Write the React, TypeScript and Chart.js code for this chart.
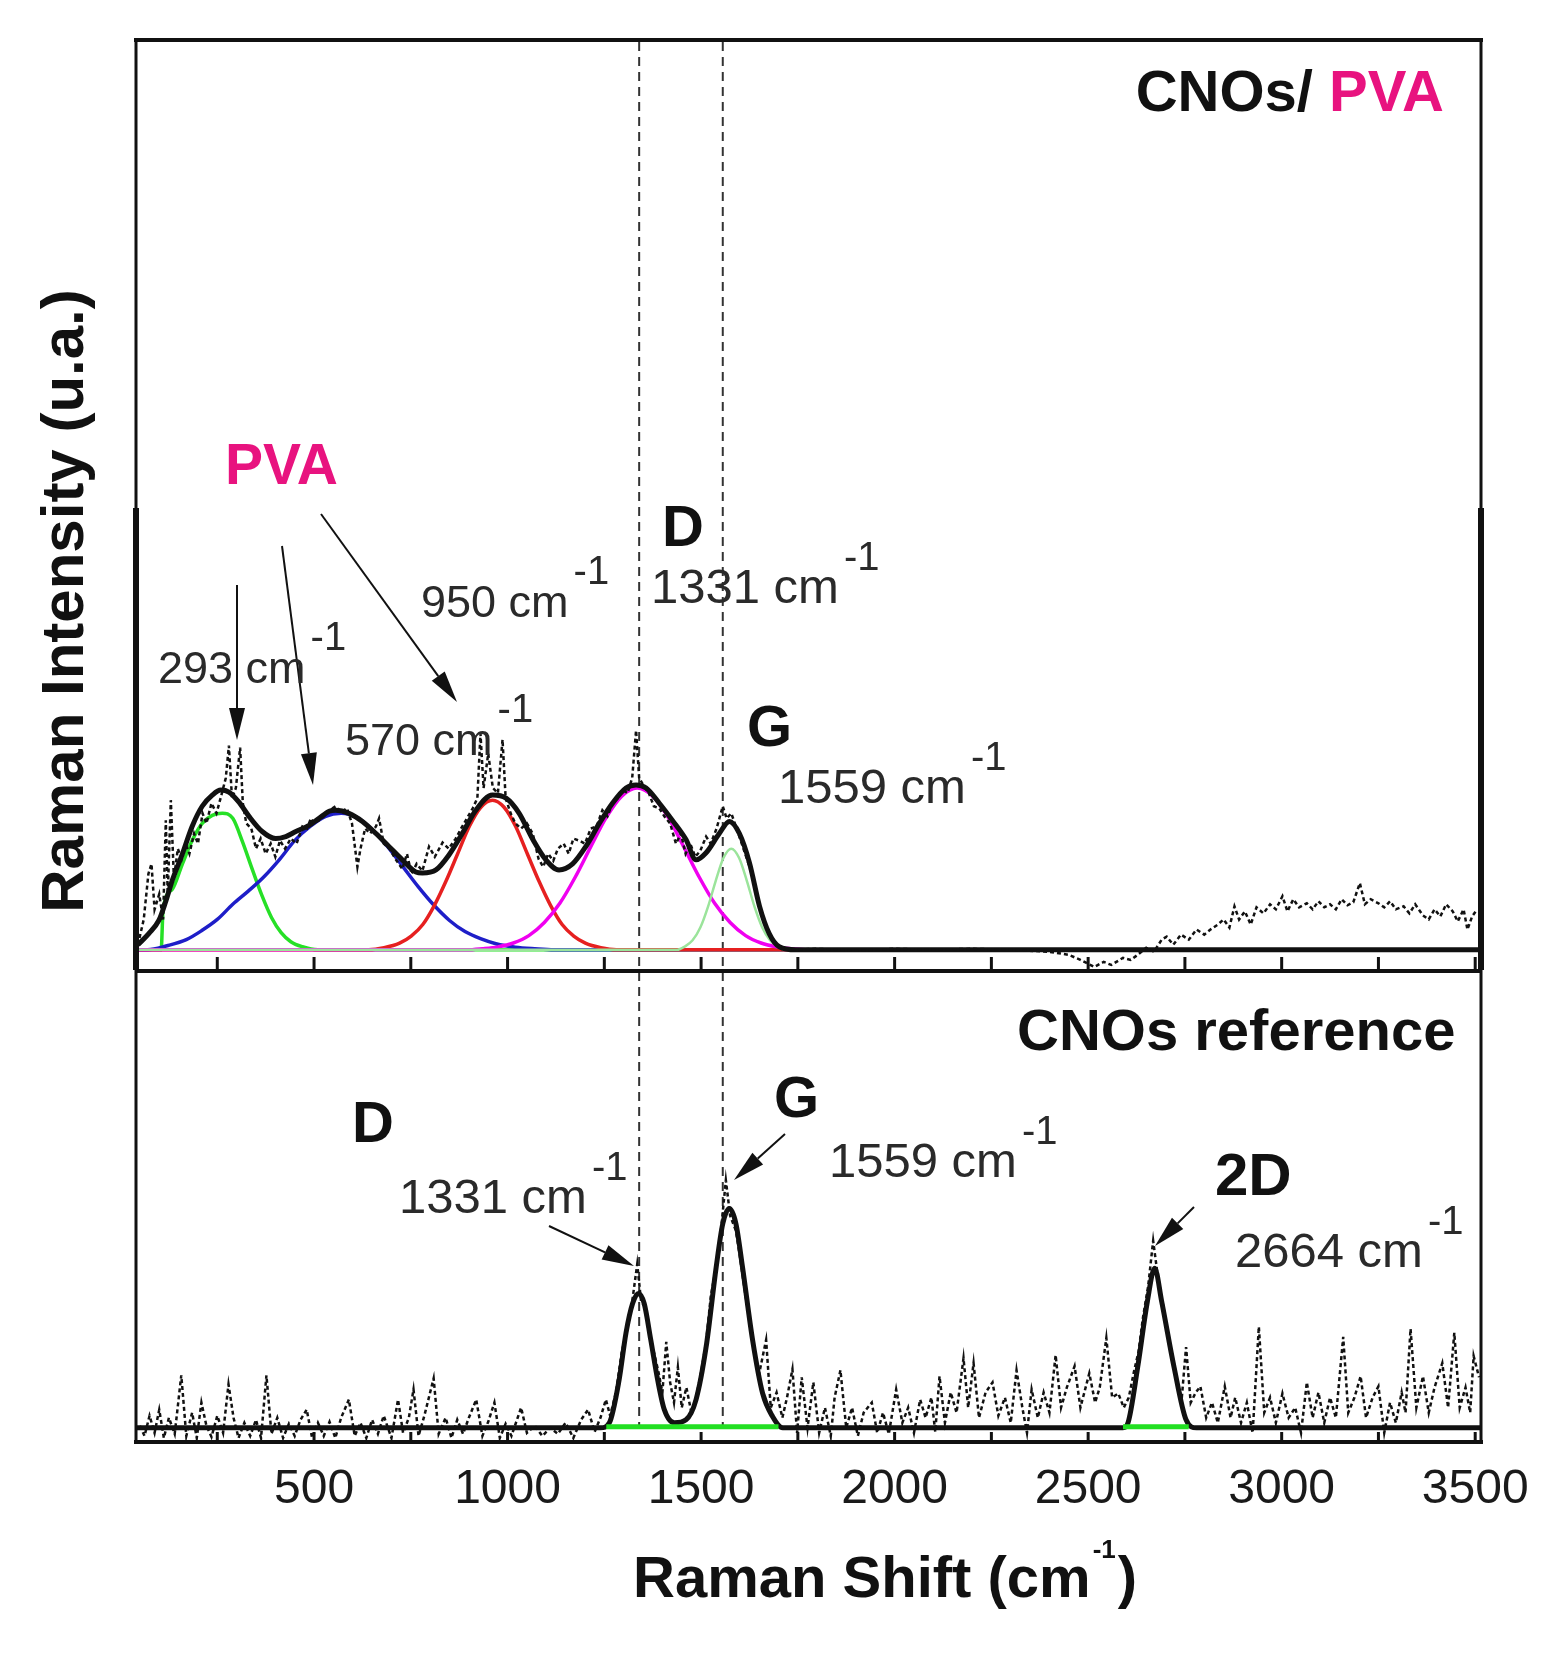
import React, { useEffect, useRef } from 'react';
import { Chart, registerables } from 'chart.js';

Chart.register(...registerables);

const FONT = '"Liberation Sans", Arial, Helvetica, sans-serif';

// ---- axis ----
const X_MIN = 40;
const X_MAX = 3515;
const xTickLabels = [500, 1000, 1500, 2000, 2500, 3000, 3500];
const xTickMarks = [250, 500, 750, 1000, 1250, 1500, 1750, 2000, 2250, 2500, 2750, 3000, 3250, 3500];
const peakLines = [1340, 1556];

// ---- upper panel: CNOs / PVA ----
const upperRaw: [number, number][] = [
  [45, 0.05], [60, 0.3], [72, 0.75], [80, 0.85], [88, 0.4], [100, 0.55], [110, 0.3], [117, 1.28], [122, 0.55], [130, 1.48],
  [138, 0.7], [148, 1.0], [158, 0.9], [168, 1.05], [178, 0.95], [190, 1.15], [200, 1.05], [212, 1.35], [222, 1.25], [235, 1.45],
  [248, 1.35], [262, 1.55], [272, 1.7], [280, 2.02], [288, 1.5], [298, 1.6], [309, 2.0], [316, 1.45], [325, 1.25], [338, 1.2],
  [350, 1.0], [362, 1.1], [375, 0.95], [388, 1.05], [400, 0.92], [412, 1.08], [425, 1.0], [440, 1.1], [455, 1.05], [470, 1.22],
  [482, 1.2], [492, 1.3], [500, 1.25], [520, 1.3], [540, 1.38], [556, 1.42], [570, 1.36], [585, 1.4], [598, 1.25], [612, 0.82],
  [620, 1.0], [632, 1.2], [645, 1.15], [660, 1.22], [668, 1.3], [680, 1.05], [695, 1.0], [710, 0.9], [728, 0.8], [740, 0.95],
  [752, 0.75], [765, 0.85], [780, 0.78], [797, 1.02], [812, 0.92], [832, 1.06], [848, 1.0], [866, 1.1], [880, 1.2], [895, 1.3],
  [910, 1.4], [922, 1.5], [930, 2.14], [938, 1.6], [950, 1.94], [962, 1.6], [975, 1.55], [987, 2.08], [995, 1.5], [1008, 1.35],
  [1020, 1.25], [1035, 1.2], [1050, 1.25], [1065, 1.15], [1080, 0.9], [1092, 0.82], [1105, 0.95], [1118, 0.88], [1130, 1.0], [1145, 1.05],
  [1158, 0.95], [1170, 1.1], [1185, 1.08], [1200, 1.05], [1215, 1.2], [1230, 1.22], [1245, 1.38], [1258, 1.32], [1271, 1.45], [1285, 1.5],
  [1298, 1.58], [1310, 1.55], [1322, 1.7], [1332, 2.17], [1340, 1.7], [1352, 1.62], [1365, 1.55], [1378, 1.42], [1392, 1.4], [1405, 1.32],
  [1420, 1.25], [1435, 1.05], [1448, 1.15], [1460, 0.95], [1472, 1.05], [1485, 0.92], [1498, 0.98], [1513, 1.12], [1525, 1.05], [1540, 1.2],
  [1556, 1.42], [1566, 1.3], [1578, 1.35], [1590, 1.22], [1605, 1.05], [1620, 0.88], [1635, 0.7], [1650, 0.45], [1665, 0.25], [1680, 0.12],
  [1700, 0.03], [1730, 0.0], [1800, 0.01], [1900, -0.01], [2000, 0.01], [2100, 0.0], [2200, 0.01], [2300, 0.0], [2400, -0.02], [2450, -0.05],
  [2480, -0.1], [2516, -0.17], [2540, -0.12], [2560, -0.15], [2590, -0.08], [2610, -0.1], [2628, -0.05], [2650, 0.02], [2670, -0.02], [2690, 0.1],
  [2703, 0.13], [2720, 0.05], [2740, 0.15], [2760, 0.1], [2780, 0.2], [2800, 0.15], [2816, 0.2], [2835, 0.25], [2850, 0.3], [2865, 0.22],
  [2878, 0.43], [2890, 0.3], [2905, 0.38], [2920, 0.25], [2935, 0.42], [2953, 0.36], [2970, 0.45], [2985, 0.4], [3002, 0.53], [3015, 0.38],
  [3030, 0.5], [3045, 0.42], [3065, 0.46], [3080, 0.4], [3095, 0.48], [3110, 0.42], [3125, 0.45], [3140, 0.4], [3155, 0.5], [3170, 0.44],
  [3185, 0.47], [3202, 0.66], [3215, 0.45], [3230, 0.5], [3250, 0.46], [3265, 0.42], [3280, 0.48], [3295, 0.4], [3315, 0.43], [3330, 0.36],
  [3345, 0.45], [3365, 0.34], [3380, 0.3], [3395, 0.4], [3410, 0.33], [3425, 0.45], [3442, 0.38], [3455, 0.28], [3470, 0.4], [3480, 0.2],
  [3492, 0.33], [3505, 0.4],
];

const upperFit: [number, number][] = [
  [45, 0.05], [73, 0.16], [99, 0.29], [117, 0.48], [134, 0.69], [160, 0.95], [185, 1.22], [211, 1.42], [237, 1.53], [259, 1.58],
  [280, 1.56], [306, 1.46], [332, 1.32], [366, 1.17], [401, 1.1], [427, 1.12], [453, 1.17], [487, 1.23], [513, 1.3], [539, 1.37],
  [556, 1.38], [590, 1.35], [625, 1.27], [660, 1.15], [694, 1.02], [728, 0.89], [763, 0.77], [780, 0.76], [815, 0.79], [849, 0.94],
  [883, 1.15], [918, 1.38], [961, 1.53], [996, 1.5], [1030, 1.35], [1064, 1.1], [1099, 0.89], [1133, 0.79], [1168, 0.85], [1202, 1.02],
  [1237, 1.25], [1271, 1.45], [1306, 1.6], [1332, 1.63], [1358, 1.6], [1392, 1.45], [1426, 1.28], [1461, 1.09], [1487, 0.89], [1513, 0.96],
  [1547, 1.15], [1573, 1.27], [1599, 1.15], [1625, 0.86], [1651, 0.43], [1676, 0.16], [1702, 0.03], [1745, 0.0], [3515, 0.0],
];

const peak293: [number, number][] = [
  [45, 0], [105, 0], [110, 0.4], [134, 0.6], [160, 0.85], [185, 1.08], [211, 1.25], [237, 1.33], [263, 1.35], [290, 1.3],
  [315, 1.07], [340, 0.8], [365, 0.54], [390, 0.32], [415, 0.17], [440, 0.08], [470, 0.03], [510, 0], [1750, 0],
];
const peak570: [number, number][] = [
  [45, 0], [70, 0], [120, 0.04], [170, 0.1], [210, 0.19], [250, 0.3], [290, 0.45], [330, 0.58], [370, 0.72], [410, 0.89],
  [450, 1.08], [490, 1.22], [530, 1.32], [570, 1.35], [610, 1.31], [650, 1.19], [690, 1.02], [730, 0.82], [770, 0.62], [810, 0.44],
  [850, 0.29], [890, 0.18], [930, 0.11], [970, 0.06], [1020, 0.026], [1070, 0.01], [1120, 0], [1750, 0],
];
const peak950: [number, number][] = [
  [45, 0], [641, 0], [681, 0.02], [721, 0.065], [751, 0.135], [781, 0.25], [811, 0.44], [841, 0.68], [871, 0.95], [901, 1.22],
  [931, 1.41], [961, 1.48], [991, 1.41], [1021, 1.22], [1051, 0.95], [1081, 0.68], [1111, 0.44], [1141, 0.25], [1171, 0.135], [1201, 0.065],
  [1241, 0.02], [1281, 0], [1750, 0],
];
const peakD: [number, number][] = [
  [45, 0], [895, 0], [935, 0.011], [975, 0.029], [1015, 0.067], [1055, 0.14], [1095, 0.27], [1135, 0.46], [1175, 0.72], [1215, 1.02],
  [1255, 1.31], [1295, 1.52], [1335, 1.6], [1375, 1.52], [1415, 1.31], [1455, 1.02], [1495, 0.72], [1535, 0.46], [1575, 0.27], [1615, 0.14],
  [1655, 0.067], [1695, 0.029], [1735, 0.011], [1775, 0],
];
const peakG: [number, number][] = [
  [45, 0], [1438, 0], [1458, 0.033], [1478, 0.094], [1498, 0.22], [1518, 0.427], [1538, 0.685], [1558, 0.91], [1578, 1.0], [1598, 0.91],
  [1618, 0.685], [1638, 0.427], [1658, 0.22], [1678, 0.094], [1698, 0.033], [1718, 0], [1750, 0],
];

// ---- lower panel: CNOs reference ----
const lowerRaw: [number, number][] = [
  [50, 0.02], [62, -0.08], [75, 0.12], [88, -0.05], [100, 0.18], [112, -0.1], [125, 0.1], [140, -0.06], [157, 0.52], [170, -0.08],
  [185, 0.15], [197, -0.1], [209, 0.25], [222, 0.02], [235, -0.09], [250, 0.12], [265, -0.05], [279, 0.43], [292, 0.1], [305, -0.1],
  [320, 0.05], [335, -0.08], [350, 0.08], [363, -0.1], [377, 0.52], [390, -0.06], [405, 0.1], [420, -0.1], [435, 0.04], [450, -0.08],
  [465, 0.08], [481, 0.18], [495, -0.1], [510, 0.05], [525, -0.08], [540, 0.06], [555, -0.1], [570, 0.1], [590, 0.28], [605, -0.08],
  [620, 0.05], [635, -0.1], [650, 0.08], [665, -0.06], [680, 0.12], [700, -0.1], [717, 0.28], [730, -0.05], [745, 0.1], [757, 0.38],
  [770, -0.08], [785, 0.12], [809, 0.49], [822, -0.06], [840, 0.1], [855, -0.1], [870, 0.08], [885, -0.06], [900, 0.1], [919, 0.28],
  [935, -0.08], [950, 0.06], [966, 0.25], [980, -0.1], [995, 0.04], [1010, -0.08], [1035, 0.2], [1050, -0.05], [1070, 0.02], [1090, -0.08],
  [1110, 0.0], [1130, -0.06], [1150, 0.05], [1170, -0.1], [1190, 0.08], [1208, 0.18], [1225, -0.04], [1240, 0.1], [1254, 0.28], [1265, 0.12],
  [1280, 0.35], [1295, 0.75], [1310, 1.0], [1322, 1.25], [1335, 1.62], [1345, 1.25], [1355, 1.2], [1365, 0.95], [1378, 0.75], [1390, 0.55],
  [1400, 0.35], [1410, 0.85], [1420, 0.45], [1430, 0.25], [1440, 0.6], [1450, 0.2], [1462, 0.4], [1475, 0.15], [1487, 0.3], [1500, 0.55],
  [1513, 0.85], [1525, 1.3], [1539, 1.6], [1550, 1.9], [1564, 2.45], [1575, 2.1], [1590, 1.95], [1600, 1.7], [1615, 1.3], [1633, 0.9],
  [1648, 0.5], [1668, 0.87], [1680, 0.2], [1695, 0.35], [1710, 0.1], [1722, 0.3], [1736, 0.58], [1748, -0.05], [1760, 0.5], [1775, 0.0],
  [1790, 0.45], [1805, -0.05], [1820, 0.2], [1835, -0.08], [1845, 0.3], [1860, 0.57], [1875, 0.0], [1890, 0.2], [1905, -0.08], [1920, 0.15],
  [1941, 0.25], [1955, -0.05], [1970, 0.15], [1985, -0.06], [2004, 0.38], [2020, 0.05], [2035, 0.2], [2050, -0.05], [2066, 0.28], [2080, 0.1],
  [2095, 0.3], [2105, -0.04], [2116, 0.51], [2130, 0.05], [2145, 0.35], [2160, 0.15], [2178, 0.69], [2190, 0.2], [2204, 0.64], [2218, 0.1],
  [2235, 0.35], [2253, 0.45], [2268, 0.12], [2285, 0.3], [2300, 0.05], [2315, 0.57], [2330, 0.2], [2342, -0.05], [2354, 0.38], [2370, 0.1],
  [2385, 0.35], [2400, 0.15], [2416, 0.72], [2430, 0.2], [2445, 0.4], [2465, 0.61], [2480, 0.2], [2503, 0.54], [2518, 0.25], [2530, 0.4],
  [2547, 0.89], [2562, 0.3], [2578, 0.34], [2592, 0.2], [2605, 0.3], [2618, 0.55], [2630, 0.75], [2642, 1.1], [2655, 1.4], [2668, 1.85],
  [2680, 1.5], [2692, 1.25], [2705, 0.95], [2718, 0.65], [2730, 0.45], [2742, 0.3], [2753, 0.8], [2765, 0.25], [2778, 0.35], [2790, 0.41],
  [2805, 0.1], [2820, 0.25], [2835, 0.05], [2853, 0.41], [2868, 0.1], [2880, 0.3], [2895, 0.05], [2910, 0.25], [2925, -0.05], [2941, 1.0],
  [2955, 0.15], [2970, 0.3], [2985, 0.05], [3002, 0.34], [3018, 0.1], [3035, 0.2], [3050, -0.05], [3065, 0.45], [3080, 0.1], [3095, 0.35],
  [3110, 0.05], [3125, 0.3], [3140, 0.1], [3159, 0.9], [3172, 0.15], [3188, 0.3], [3204, 0.51], [3218, 0.1], [3235, 0.3], [3250, 0.41],
  [3265, -0.05], [3280, 0.25], [3295, 0.05], [3310, 0.35], [3320, 0.15], [3333, 0.98], [3348, 0.2], [3365, 0.51], [3380, 0.15], [3395, 0.4],
  [3415, 0.64], [3430, 0.2], [3446, 0.94], [3460, 0.2], [3475, 0.4], [3487, 0.15], [3496, 0.71], [3510, 0.5],
];

const lowerFit: [number, number][] = [
  [40, 0], [1240, 0], [1263, 0.05], [1288, 0.47], [1306, 0.94], [1323, 1.23], [1338, 1.33], [1353, 1.23], [1370, 0.87], [1388, 0.47],
  [1405, 0.18], [1431, 0.05], [1461, 0.08], [1487, 0.28], [1513, 0.8], [1539, 1.59], [1556, 2.02], [1573, 2.17], [1590, 2.02], [1607, 1.59],
  [1633, 0.87], [1659, 0.34], [1685, 0.11], [1711, 0.0], [2590, 0], [2603, 0.05], [2628, 0.6], [2653, 1.25], [2672, 1.58], [2690, 1.25],
  [2722, 0.6], [2753, 0.08], [2780, 0.0], [3515, 0],
];

const lowerBaseGreen: [number, number | null][] = [
  [1255, 0.01], [1700, 0.01], [1720, null], [2590, 0.01], [2760, 0.01],
];

// ---- annotation texts ----
const peakLabelsTop = [
  { text: '293 cm', x: 158, y: 683, size: 45 },
  { text: '570 cm', x: 345, y: 755, size: 45 },
  { text: '950 cm', x: 421, y: 617, size: 45 },
  { text: '1331 cm', x: 651, y: 603, size: 49 },
  { text: '1559 cm', x: 778, y: 803, size: 49 },
];
const peakLabelsBottom = [
  { text: '1331 cm', x: 399, y: 1213, size: 49 },
  { text: '1559 cm', x: 829, y: 1177, size: 49 },
  { text: '2664 cm', x: 1235, y: 1267, size: 49 },
];
const boldLabels = [
  { text: 'D', x: 662, y: 546, size: 58 },
  { text: 'G', x: 747, y: 746, size: 58 },
  { text: 'D', x: 352, y: 1142, size: 58 },
  { text: 'G', x: 774, y: 1117, size: 58 },
  { text: '2D', x: 1215, y: 1195, size: 60 },
  { text: 'CNOs reference', x: 1017, y: 1050, size: 58 },
];
const arrows = [
  [237, 585, 237, 740],
  [282, 546, 313, 785],
  [321, 514, 457, 702],
  [549, 1226, 634, 1266],
  [785, 1134, 734, 1180],
  [1194, 1207, 1155, 1246],
];

const PINK = '#E8137F';

const toXY = (arr: [number, number | null][]) => arr.map(([x, y]) => ({ x, y }));

function drawArrow(ctx: CanvasRenderingContext2D, x1: number, y1: number, x2: number, y2: number) {
  const ang = Math.atan2(y2 - y1, x2 - x1);
  const head = 32;
  const hw = 8;
  const bx = x2 - head * Math.cos(ang);
  const by = y2 - head * Math.sin(ang);
  ctx.beginPath();
  ctx.moveTo(x1, y1);
  ctx.lineTo(bx, by);
  ctx.lineWidth = 2;
  ctx.stroke();
  ctx.beginPath();
  ctx.moveTo(x2, y2);
  ctx.lineTo(bx + hw * Math.sin(ang), by - hw * Math.cos(ang));
  ctx.lineTo(bx - hw * Math.sin(ang), by + hw * Math.cos(ang));
  ctx.closePath();
  ctx.fill();
}

const decorPlugin = {
  id: 'decor',
  beforeDatasetsDraw(chart: any) {
    const ctx: CanvasRenderingContext2D = chart.ctx;
    const xs = chart.scales.x;
    const ys = chart.scales.yBot;
    ctx.save();
    ctx.strokeStyle = '#333';
    ctx.lineWidth = 2;
    ctx.setLineDash([9, 6]);
    for (const v of peakLines) {
      const px = xs.getPixelForValue(v);
      ctx.beginPath();
      ctx.moveTo(px, chart.chartArea.top + 2);
      ctx.lineTo(px, ys.getPixelForValue(0));
      ctx.stroke();
    }
    ctx.restore();
  },
  afterDraw(chart: any) {
    const ctx: CanvasRenderingContext2D = chart.ctx;
    const ca = chart.chartArea;
    const xs = chart.scales.x;
    const L = ca.left, R = ca.right, T = ca.top, B = ca.bottom;
    const M = chart.scales.yTop.bottom;
    const THICK = 508;
    ctx.save();
    ctx.strokeStyle = '#111';
    ctx.fillStyle = '#111';
    const seg = (x1: number, y1: number, x2: number, y2: number, w: number) => {
      ctx.lineWidth = w;
      ctx.beginPath();
      ctx.moveTo(x1, y1);
      ctx.lineTo(x2, y2);
      ctx.stroke();
    };
    // frame
    seg(L - 2, T, R + 2, T, 4);
    seg(L, T, L, THICK, 3);
    seg(L, THICK, L, M, 6);
    seg(R, T, R, THICK, 3);
    seg(R, THICK, R, M, 6);
    seg(L, M + 1, R, M + 1, 4);
    seg(L, M, L, B, 3);
    seg(R, M, R, B, 3);
    seg(L - 2, B, R + 2, B, 4);
    for (const v of xTickMarks) {
      const px = xs.getPixelForValue(v);
      seg(px, M, px, M - 13, 3);
      seg(px, B, px, B - 10, 3);
    }

    // arrows
    ctx.fillStyle = '#111';
    ctx.strokeStyle = '#111';
    for (const a of arrows) drawArrow(ctx, a[0], a[1], a[2], a[3]);

    // texts
    ctx.textBaseline = 'alphabetic';
    ctx.textAlign = 'left';
    const put = (s: string, x: number, y: number, size: number, bold: boolean, color: string) => {
      ctx.font = `${bold ? 'bold ' : ''}${size}px ${FONT}`;
      ctx.fillStyle = color;
      ctx.fillText(s, x, y);
      return ctx.measureText(s).width;
    };
    for (const l of [...peakLabelsTop, ...peakLabelsBottom]) {
      const w = put(l.text, l.x, l.y, l.size, false, '#2a2a2a');
      put('-1', l.x + w + 5, l.y - 33, 40, false, '#2a2a2a');
    }
    for (const l of boldLabels) put(l.text, l.x, l.y, l.size, true, '#111');

    // title top right
    ctx.font = `bold 58px ${FONT}`;
    const w1 = ctx.measureText('CNOs/ ').width;
    const w2 = ctx.measureText('PVA').width;
    const sx = 1444 - w1 - w2;
    put('CNOs/ ', sx, 111, 58, true, '#111');
    put('PVA', sx + w1, 111, 58, true, PINK);
    put('PVA', 225, 484, 57, true, PINK);

    // x-axis title
    const tw = put('Raman Shift (cm', 633, 1597, 58, true, '#111');
    const sw = put('-1', 633 + tw + 2, 1558, 26, true, '#111');
    put(')', 633 + tw + sw + 4, 1597, 58, true, '#111');

    // y-axis title
    ctx.save();
    ctx.translate(66, 601);
    ctx.rotate(-Math.PI / 2);
    ctx.font = `bold 60px ${FONT}`;
    ctx.textAlign = 'center';
    ctx.textBaseline = 'middle';
    ctx.fillStyle = '#111';
    ctx.fillText('Raman Intensity (u.a.)', 0, 0);
    ctx.restore();

    ctx.restore();
  },
};

export default function App() {
  const ref = useRef<HTMLCanvasElement | null>(null);

  useEffect(() => {
    if (!ref.current) return;
    const line = (data: any[], color: string, width: number, yAxisID: string, order: number, smooth: boolean, dash?: number[]) => ({
      data,
      borderColor: color,
      backgroundColor: color,
      borderWidth: width,
      pointRadius: 0,
      fill: false,
      yAxisID,
      xAxisID: 'x',
      order,
      tension: 0,
      cubicInterpolationMode: smooth ? 'monotone' : 'default',
      borderDash: dash || [],
      spanGaps: false,
    });

    const chart = new Chart(ref.current, {
      type: 'line',
      data: {
        datasets: [
          line(toXY(upperRaw), '#111', 2.5, 'yTop', 1, false, [4, 3]),
          line(toXY(upperFit), '#111', 5, 'yTop', 2, true),
          line(toXY(peakG), '#9BE49B', 2.5, 'yTop', 3, true),
          line(toXY(peakD), '#F000F0', 3.5, 'yTop', 4, true),
          line(toXY(peak950), '#E62020', 3.5, 'yTop', 5, true),
          line(toXY(peak570), '#1E1EC8', 3.5, 'yTop', 6, true),
          line(toXY(peak293), '#26E026', 3.5, 'yTop', 7, true),
          line(toXY(lowerBaseGreen), '#22E022', 5, 'yBot', 0, false),
          line(toXY(lowerRaw), '#111', 2.5, 'yBot', 1, false, [4, 3]),
          line(toXY(lowerFit), '#111', 5, 'yBot', 2, true),
        ] as any,
      },
      options: {
        animation: false,
        responsive: false,
        events: [],
        layout: { padding: { left: 136, right: 76, top: 40, bottom: 0 } },
        plugins: { legend: { display: false }, tooltip: { enabled: false } },
        scales: {
          x: {
            type: 'linear',
            position: 'bottom',
            min: X_MIN,
            max: X_MAX,
            grid: { display: false, drawTicks: false },
            border: { display: false },
            afterBuildTicks: (scale: any) => {
              scale.ticks = xTickLabels.map((v) => ({ value: v }));
            },
            afterFit: (scale: any) => {
              scale.height = 211;
            },
            ticks: {
              autoSkip: false,
              maxRotation: 0,
              padding: 19,
              color: '#1a1a1a',
              font: { family: FONT, size: 48 },
              callback: (v: any) => String(v),
            },
          },
          yTop: {
            type: 'linear',
            position: 'left',
            stack: 'panels',
            stackWeight: 930,
            weight: 10,
            min: -0.2,
            max: 9.0,
            display: false,
          },
          yBot: {
            type: 'linear',
            position: 'left',
            stack: 'panels',
            stackWeight: 472,
            weight: 0,
            min: -0.14,
            max: 4.53,
            display: false,
          },
        },
      } as any,
      plugins: [decorPlugin],
    });
    return () => chart.destroy();
  }, []);

  return (
    <div style={{ position: 'absolute', left: 0, top: 0, width: 1557, height: 1653, background: '#fff' }}>
      <canvas ref={ref} width={1557} height={1653} style={{ display: 'block' }} />
    </div>
  );
}
